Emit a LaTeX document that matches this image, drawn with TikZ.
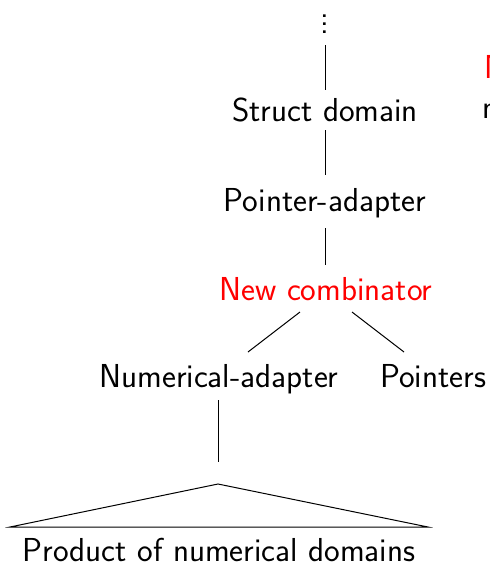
\documentclass[tikz,border=0pt]{standalone}
\usepackage{tikz}
\tikzset{
  lbl/.style={font=\sffamily\fontsize{16.6}{19}\selectfont, inner sep=0pt, anchor=base},
  edge/.style={line width=0.5pt, black},
}
\begin{document}
\begin{tikzpicture}[x=0.5pt, y=-0.5pt]
\useasboundingbox (0,0) rectangle (489,563);
\clip (0,0) rectangle (489,563);
% vertical ellipsis at the top of the chain
\node[lbl] (dots) at (325,33) {$\vdots$};
\coordinate (d1) at (325,45);
\coordinate (d2) at (325,90);
\draw[edge] (d1) -- (d2);
% chain of domains
\node[lbl] (sd) at (325,121) {Struct domain};
\node[lbl] (pa) at (325,211) {Pointer-adapter};
\node[lbl, text=red] (nc) at (326,300) {New combinator};
\node[lbl] (na) at (219,387) {Numerical-adapter};
\node[lbl] (pt) at (433,387) {Pointers};
\node[lbl] (pr) at (219,561) {Product of numerical domains};
\coordinate (s1) at (325,130); \coordinate (s2) at (325,175);
\coordinate (p1) at (325,228); \coordinate (p2) at (325,265);
\draw[edge] (s1) -- (s2);
\draw[edge] (p1) -- (p2);
\coordinate (l1) at (300,312); \coordinate (l2) at (248,352);
\coordinate (r1) at (352,312); \coordinate (r2) at (404,352);
\draw[edge] (l1) -- (l2);
\draw[edge] (r1) -- (r2);
\coordinate (n1) at (218,400); \coordinate (n2) at (218,462);
\draw[edge] (n1) -- (n2);
% roof over the product of domains
\coordinate (apex) at (218,484);
\coordinate (bl) at (10,527);
\coordinate (br) at (428,527);
\draw[edge] (bl) -- (apex) -- (br) -- cycle;
% text running off the right edge
\node[lbl, anchor=base west, text=red] (rt1) at (484,78) {N};
\node[lbl, anchor=base west] (rt2) at (482,118) {n};
\end{tikzpicture}
\end{document}
